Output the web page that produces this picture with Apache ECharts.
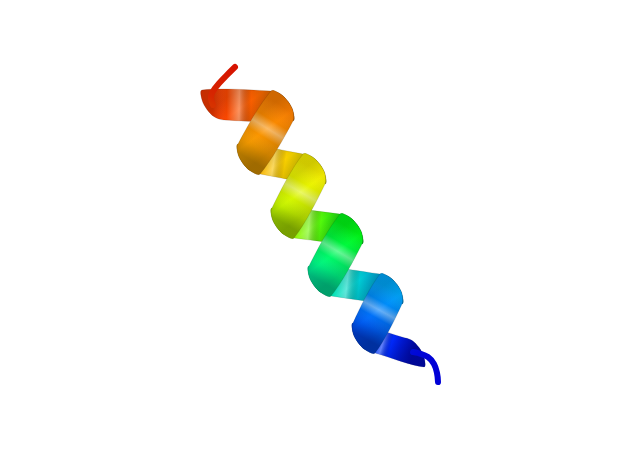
<!DOCTYPE html>
<html><head><meta charset="utf-8">
<script src="https://cdn.jsdelivr.net/npm/echarts@6/dist/echarts.min.js"></script>
<style>html,body{margin:0;padding:0;background:#fff}#c{width:640px;height:450px}</style>
</head><body><div id="c"></div>
<script>
// Helix trace from N-terminus (blue tail) to C-terminus (red tail): tail points and the
// centres of the ribbon folds
const pathX = [438,437,434,428,418, 413,364,391,320,351,283,314,249,282,213, 211,216,226,235];
const pathY = [382,373,364,357,353, 352,338,289,281,229,223,169,159,106,105, 96,87,76,67];
// Rainbow hue at each point
const hue   = [240,240,240,239,238, 237,222,200,160,125,75,58,40,30,14, 11,9,7,5];
// Pieces of the chain: start index, end index, kind
const segStart = [0,5,6,7,8,9,10,11,12,13,14];
const segEnd   = [5,6,7,8,9,10,11,12,13,14,18];
const segKind  = ['tube','back','front','back','front','back','front','back','front','back','tube'];

const order = [];
['back','front','tube'].forEach(k => segKind.forEach((s,i) => { if (s === k) order.push(i); }));

const W = [11, 15];          // ribbon half-width vector (px)
const OUT = [0.81, -0.59];   // outward direction of a right-hand fold
const BULGE = 7.5;
function col(h, l) { return 'hsl(' + h + ',100%,' + l + '%)'; }

function renderItem(params, api) {
  const s = order[api.value(0)];
  const a = segStart[s], b = segEnd[s], kind = segKind[s];
  const pts = [];
  for (let i = a; i <= b; i++) pts.push(api.coord([pathX[i], pathY[i]]));
  const p0 = pts[0], p1 = pts[pts.length - 1];
  const vx = p1[0] - p0[0], vy = p1[1] - p0[1];
  const L2 = vx * vx + vy * vy;
  const stops = [];
  let last = 0;
  for (let i = a; i <= b; i++) {
    const p = pts[i - a];
    let t = ((p[0] - p0[0]) * vx + (p[1] - p0[1]) * vy) / L2;
    t = Math.min(1, Math.max(last, t)); last = t;
    stops.push({ offset: t, color: col(hue[i], kind === 'tube' ? 42 : 49) });
  }
  const grad = new echarts.graphic.LinearGradient(p0[0], p0[1], p1[0], p1[1], stops, true);
  if (kind === 'tube') {
    return { type: 'polyline', shape: { points: pts, smooth: 0.4 },
      style: { stroke: grad, lineWidth: 6, lineCap: 'round', lineJoin: 'round', fill: null } };
  }
  const A = p0, B = p1;
  const sA = A[0] > B[0] ? 1 : -1, sB = -sA;   // which side each fold bulges to
  const oA = [OUT[0] * sA, OUT[1] * sA], oB = [OUT[0] * sB, OUT[1] * sB];
  const cap = (C, o, f) => [
    [C[0] + f * 0.55 * W[0] + o[0] * BULGE * 0.8, C[1] + f * 0.55 * W[1] + o[1] * BULGE * 0.8],
    [C[0] + o[0] * BULGE, C[1] + o[1] * BULGE],
    [C[0] - f * 0.55 * W[0] + o[0] * BULGE * 0.8, C[1] - f * 0.55 * W[1] + o[1] * BULGE * 0.8]
  ];
  const poly = [[A[0] - W[0], A[1] - W[1]], [B[0] - W[0], B[1] - W[1]]]
    .concat(cap(B, oB, -1))
    .concat([[B[0] + W[0], B[1] + W[1]], [A[0] + W[0], A[1] + W[1]]])
    .concat(cap(A, oA, 1));
  const shadeStops = kind === 'front'
    ? [{offset:0,color:'rgba(0,0,0,0.26)'},{offset:0.22,color:'rgba(0,0,0,0.05)'},{offset:0.42,color:'rgba(255,255,255,0)'},{offset:0.57,color:'rgba(255,255,255,0.4)'},{offset:0.72,color:'rgba(255,255,255,0)'},{offset:1,color:'rgba(0,0,0,0.06)'}]
    : [{offset:0,color:'rgba(0,0,0,0.3)'},{offset:0.25,color:'rgba(0,0,0,0.14)'},{offset:0.45,color:'rgba(0,0,0,0)'},{offset:0.62,color:'rgba(255,255,255,0.38)'},{offset:0.8,color:'rgba(255,255,255,0)'},{offset:1,color:'rgba(0,0,0,0.1)'}];
  const shade = new echarts.graphic.LinearGradient(p0[0], p0[1], p1[0], p1[1], shadeStops, true);
  const m = [(A[0] + B[0]) / 2, (A[1] + B[1]) / 2];
  const edge = new echarts.graphic.LinearGradient(m[0] - W[0], m[1] - W[1], m[0] + W[0], m[1] + W[1],
    [{offset:0,color:'rgba(0,0,0,0.12)'},{offset:0.45,color:'rgba(0,0,0,0)'},{offset:1,color:'rgba(0,0,0,0.14)'}], true);
  const shape = { points: poly, smooth: 0.3 };
  return { type: 'group', children: [
    { type: 'polygon', shape: shape, style: { fill: grad, stroke: 'rgba(0,0,0,0.2)', lineWidth: 0.6 } },
    { type: 'polygon', shape: shape, style: { fill: shade } },
    { type: 'polygon', shape: shape, style: { fill: edge } }
  ] };
}

const chart = echarts.init(document.getElementById('c'));
chart.setOption({
  backgroundColor: '#ffffff',
  animation: false,
  grid: { left: 0, right: 0, top: 0, bottom: 0 },
  xAxis: { type: 'value', min: 0, max: 640, show: false },
  yAxis: { type: 'value', min: 0, max: 450, inverse: true, show: false },
  series: [{ type: 'custom', renderItem: renderItem, data: order.map((s, i) => [i]) }]
});
</script></body></html>
